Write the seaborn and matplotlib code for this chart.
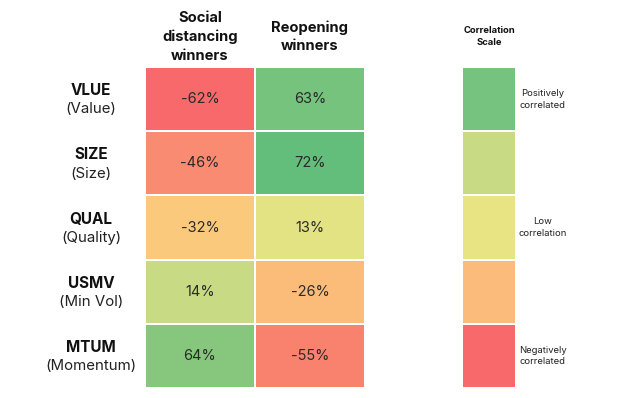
import numpy as np
import pandas as pd
import matplotlib
matplotlib.use('Agg')
import matplotlib.pyplot as plt
import seaborn as sns
from matplotlib.colors import LinearSegmentedColormap, ListedColormap

sns.set_style('white')
plt.rcParams['font.family'] = ['Inter', 'DejaVu Sans']

# data
tickers = ['VLUE', 'SIZE', 'QUAL', 'USMV', 'MTUM']
factor_names = ['(Value)', '(Size)', '(Quality)', '(Min Vol)', '(Momentum)']
columns = ['Social\ndistancing\nwinners', 'Reopening\nwinners']
social_distancing = [-62, -46, -32, 14, 64]
reopening = [63, 72, 13, -26, -55]

scale_labels = ['Positively\ncorrelated', '', 'Low\ncorrelation', '', 'Negatively\ncorrelated']
scale_levels = [2, 1, 0, -1, -2]

# colour anchors of the heatmap scale (value -> colour)
anchors = [(-62, '#F8696B'), (-55, '#F9836F'), (-46, '#F98B72'), (-32, '#FBC97C'),
           (-26, '#FBBA79'), (13, '#E8E483'), (14, '#C8DB84'), (63, '#75C37D'),
           (64, '#88C77D'), (72, '#63BE7B')]
vmin, vmax = -62, 72
cmap = LinearSegmentedColormap.from_list(
    'corr', [((v - vmin) / (vmax - vmin), c) for v, c in anchors])
scale_cmap = ListedColormap(['#F8696B', '#FBBB7A', '#E8E483', '#C8DB84', '#75C37E'])

df = pd.DataFrame({'sd': social_distancing, 'ro': reopening}, index=tickers)
annot = df.map(lambda v: f'{v}%')

fig = plt.figure(figsize=(6.2, 3.98), dpi=100)
ax = fig.add_axes([145 / 620, 1 - 388 / 398, 220 / 620, 321 / 398])
sns.heatmap(df, ax=ax, cmap=cmap, vmin=vmin, vmax=vmax, annot=annot, fmt='',
            cbar=False, linewidths=1.2, linecolor='white',
            annot_kws={'fontsize': 10.5, 'color': '#2a2a2a'})
ax.set_xticks([])
ax.set_yticks([])
ax.set_xlabel('')
ax.set_ylabel('')

for i, (t, n) in enumerate(zip(tickers, factor_names)):
    ax.text(-0.49, i + 0.37, t, ha='center', va='center', fontsize=11,
            fontweight='bold', color='#111111', clip_on=False)
    ax.text(-0.49, i + 0.66, n, ha='center', va='center', fontsize=10.8,
            color='#222222', clip_on=False)

for j, c in enumerate(columns):
    ax.text(j + 0.5, -0.47, c, ha='center', va='center', fontsize=10.6,
            fontweight='bold', color='#111111', linespacing=1.4, clip_on=False)

# correlation scale
ax2 = fig.add_axes([462 / 620, 1 - 388 / 398, 54 / 620, 321 / 398])
scale_df = pd.DataFrame({'level': scale_levels})
sns.heatmap(scale_df, ax=ax2, cmap=scale_cmap, vmin=-2.5, vmax=2.5, cbar=False,
            linewidths=1.2, linecolor='white')
ax2.set_xticks([])
ax2.set_yticks([])
ax2.set_xlabel('')
ax2.set_ylabel('')
for i, lab in enumerate(scale_labels):
    if lab:
        ax2.text(1.5, i + 0.5, lab, ha='center', va='center', fontsize=6.8,
                 color='#222222', linespacing=1.4, clip_on=False)
ax2.text(0.5, -0.47, 'Correlation\nScale', ha='center', va='center', fontsize=6.8,
         fontweight='bold', color='#111111', linespacing=1.4, clip_on=False)

fig.savefig('out.png', dpi=100)
